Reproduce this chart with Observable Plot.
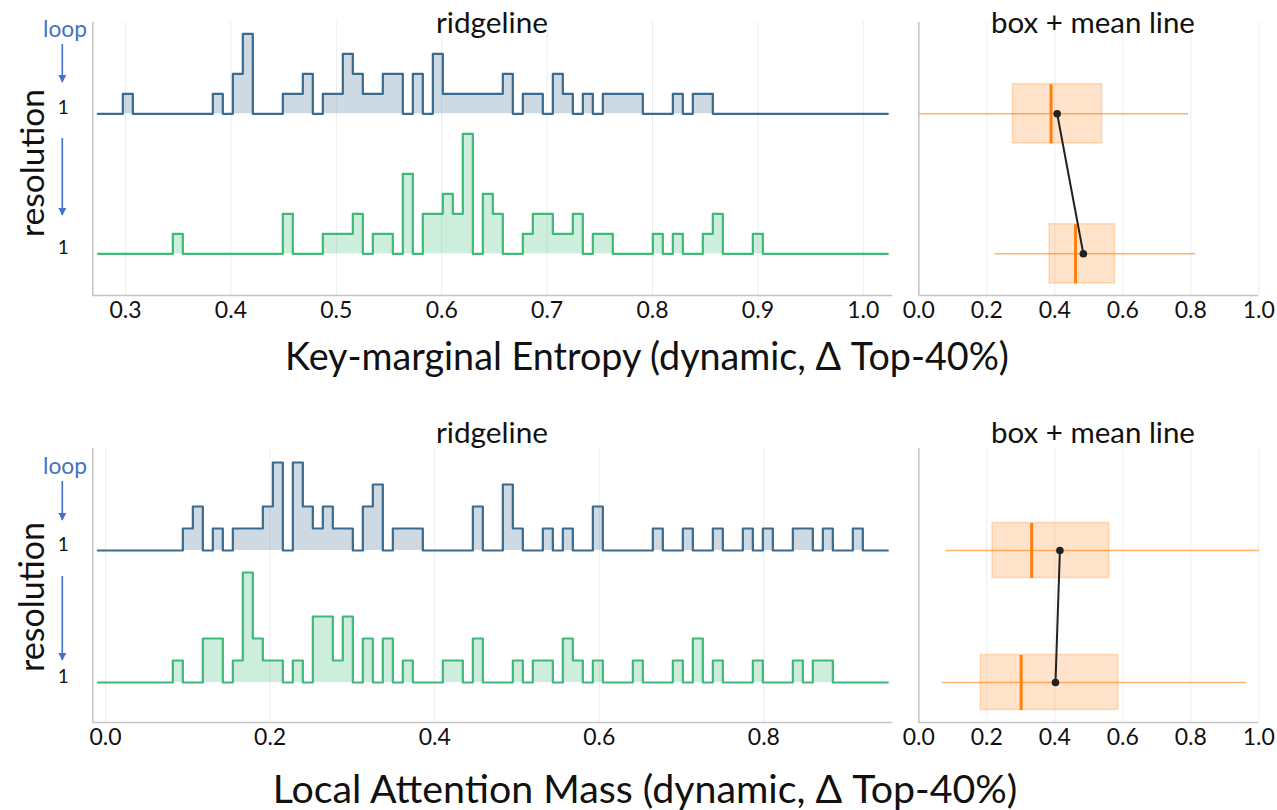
<!DOCTYPE html>
<html><head><meta charset="utf-8">
<script src="https://cdn.jsdelivr.net/npm/d3@7"></script>
<script src="https://cdn.jsdelivr.net/npm/@observablehq/plot@0.6"></script>
<style>
body{margin:0;background:#fff;}
#root{position:relative;width:1277px;height:810px;overflow:hidden;font-family:Lato,"Open Sans",sans-serif;}
.panel{position:absolute;}
#overlay{position:absolute;left:0;top:0;pointer-events:none;}
</style></head><body><div id="root"></div>
<script>
// ---------------- DATA ----------------
const rowLabels = ["1", "1"];          // y tick labels (resolution values)
const nBins = 80;

// Key-marginal Entropy panel
const entropyRange = [0.269, 1.028];
const entropyTicks = [0.3, 0.4, 0.5, 0.6, 0.7, 0.8, 0.9, 1.0];
const entropyLoopCounts = [
  0,0,0,1,0,0,0,0,0,0, 0,0,1,0,2,4,0,0,0,1, 1,2,0,1,1,3,2,1,1,2, 2,0,2,0,3,1,1,1,1,1,
  1,2,0,1,1,0,2,1,0,1, 0,1,1,1,1,0,0,0,1,0, 1,1,0,0,0,0,0,0,0,0, 0,0,0,0,0,0,0,0,0,0];
const entropyResCounts = [
  0,0,0,0,0,0,0,0,1,0, 0,0,0,0,0,0,0,0,0,2, 0,0,0,1,1,1,2,0,1,1, 0,4,0,2,2,3,2,6,0,3,
  2,0,0,1,2,2,1,1,2,0, 1,1,0,0,0,0,1,0,1,0, 0,1,2,0,0,0,1,0,0,0, 0,0,0,0,0,0,0,0,0,0];
// box stats: [whiskerLow, q1, median, q3, whiskerHigh, mean]
const entropyLoopBox = [0.0, 0.277, 0.389, 0.539, 0.792, 0.407];
const entropyResBox  = [0.2235, 0.385, 0.461, 0.577, 0.813, 0.484];

// Local Attention Mass panel
const attnRange = [-0.0154, 0.9567];
const attnTicks = [0.0, 0.2, 0.4, 0.6, 0.8];
const attnLoopCounts = [
  0,0,0,0,0,0,0,0,0,1, 2,0,1,0,1,1,1,2,4,0, 4,2,1,2,1,1,0,2,3,0, 1,1,1,0,0,0,0,0,2,0,
  0,3,1,0,0,1,0,1,0,0, 2,0,0,0,0,0,1,0,0,1, 0,0,1,0,0,1,0,1,0,0, 1,1,0,1,0,0,1,0,0,0];
const attnResCounts = [
  0,0,0,0,0,0,0,0,1,0, 0,2,2,0,1,5,2,1,1,0, 1,0,3,3,1,3,0,2,0,2, 0,1,0,0,0,1,1,0,2,0,
  0,0,1,0,1,1,0,2,1,0, 1,0,0,0,1,0,0,0,1,0, 2,0,1,0,0,0,1,0,0,0, 1,0,1,1,0,0,0,0,0,0];
const attnLoopBox = [0.0785, 0.217, 0.332, 0.560, 1.0, 0.415];
const attnResBox  = [0.067, 0.182, 0.301, 0.587, 0.963, 0.402];

const boxTicks = [0.0, 0.2, 0.4, 0.6, 0.8, 1.0];

// ---------------- STYLE / LAYOUT ----------------
const blue = "#3b6a8f", green = "#3dba78", orange = "#ff7f0e", loopBlue = "#4472c4";
const gridColor = "#ededed", axisColor = "#c4c4c4";
const FONT = "Lato, 'Open Sans', sans-serif";

const panels = [
  {top: 0, frameTop: 22, frameBottom: 295, range: entropyRange, ticks: entropyTicks,
   loop: entropyLoopCounts, res: entropyResCounts, loopBox: entropyLoopBox, resBox: entropyResBox,
   offset: 7, yDomain: [-2.085, 11.565], boxHalf: 1.48},
  {top: 0, frameTop: 448, frameBottom: 722, range: attnRange, ticks: attnTicks,
   loop: attnLoopCounts, res: attnResCounts, loopBox: attnLoopBox, resBox: attnResBox,
   offset: 6, yDomain: [-1.818, 10.636], boxHalf: 1.25}
];

const root = document.getElementById("root");

function stepPoints(counts, lo, w, base) {
  const pts = [{x: lo + w / 2, y: base + counts[0], base}];
  for (let k = 1; k < counts.length; k++) pts.push({x: lo + k * w, y: base + counts[k], base});
  pts.push({x: lo + (counts.length - 0.5) * w, y: base + counts[counts.length - 1], base});
  return pts;
}

panels.forEach(p => {
  const [lo, hi] = p.range;
  const w = (hi - lo) / nBins;
  const loopPts = stepPoints(p.loop, lo, w, p.offset);
  const resPts = stepPoints(p.res, lo, w, 0);
  const H = p.frameBottom + 45;
  const ridge = Plot.plot({
    width: 900, height: H,
    marginLeft: 92.33, marginRight: 7.67, marginTop: p.frameTop, marginBottom: H - p.frameBottom,
    style: {fontFamily: FONT, background: "transparent"},
    x: {domain: [lo, hi], axis: null},
    y: {domain: p.yDomain, axis: null},
    marks: [
      Plot.gridX(p.ticks, {stroke: gridColor, strokeOpacity: 1}),
      Plot.area(resPts, {x1: "x", y1: "base", y2: "y", curve: "step-after", fill: green, fillOpacity: 0.25}),
      Plot.line(resPts, {x: "x", y: "y", curve: "step-after", stroke: green, strokeWidth: 2.2}),
      Plot.area(loopPts, {x1: "x", y1: "base", y2: "y", curve: "step-after", fill: blue, fillOpacity: 0.25}),
      Plot.line(loopPts, {x: "x", y: "y", curve: "step-after", stroke: blue, strokeWidth: 2.2}),
      Plot.ruleX([lo], {stroke: axisColor, strokeWidth: 1.5}),
      Plot.ruleY([p.yDomain[0]], {stroke: axisColor, strokeWidth: 1.5}),
      Plot.axisX(p.ticks, {tickSize: 0, tickPadding: 6, tickFormat: d3.format(".1f"), fontSize: 23, label: null, fill: "#111"}),
      Plot.axisY([p.offset, 0], {tickSize: 0, tickPadding: 24, tickFormat: (d, i) => rowLabels[i], fontSize: 19, label: null, dy: -6, fill: "#111"})
    ]
  });
  const d1 = document.createElement("div");
  d1.className = "panel"; d1.style.left = "0px"; d1.style.top = p.top + "px";
  d1.appendChild(ridge); root.appendChild(d1);

  const boxes = [
    {row: p.offset, s: p.loopBox},
    {row: 0, s: p.resBox}
  ].map(b => ({row: b.row, wlo: b.s[0], q1: b.s[1], med: b.s[2], q3: b.s[3], whi: b.s[4], mean: b.s[5],
               y1: b.row - p.boxHalf, y2: b.row + p.boxHalf}));
  const box = Plot.plot({
    width: 377, height: H,
    marginLeft: 18.3, marginRight: 18.7, marginTop: p.frameTop, marginBottom: H - p.frameBottom,
    style: {fontFamily: FONT, background: "transparent"},
    x: {domain: [0, 1], axis: null},
    y: {domain: p.yDomain, axis: null},
    marks: [
      Plot.gridX(boxTicks, {stroke: gridColor, strokeOpacity: 1}),
      Plot.rect(boxes, {x1: "q1", x2: "q3", y1: "y1", y2: "y2", fill: orange, fillOpacity: 0.22, stroke: orange, strokeOpacity: 0.25, strokeWidth: 1.5}),
      Plot.link(boxes, {x1: "wlo", x2: "whi", y1: "row", y2: "row", stroke: orange, strokeOpacity: 0.6, strokeWidth: 1.5}),
      Plot.link(boxes, {x1: "med", x2: "med", y1: "y1", y2: "y2", stroke: orange, strokeWidth: 3}),
      Plot.line(boxes, {x: "mean", y: "row", stroke: "#222", strokeWidth: 2}),
      Plot.dot(boxes, {x: "mean", y: "row", r: 3.8, fill: "#222"}),
      Plot.ruleX([0], {stroke: axisColor, strokeWidth: 1.5}),
      Plot.ruleY([p.yDomain[0]], {stroke: axisColor, strokeWidth: 1.5}),
      Plot.axisX(boxTicks, {tickSize: 0, tickPadding: 6, tickFormat: d3.format(".1f"), fontSize: 23, label: null, fill: "#111"})
    ]
  });
  const d2 = document.createElement("div");
  d2.className = "panel"; d2.style.left = "900px"; d2.style.top = p.top + "px";
  d2.appendChild(box); root.appendChild(d2);
});

// ---------------- OVERLAY TEXT & ARROWS ----------------
const svg = d3.select(root).append("svg").attr("id", "overlay").attr("width", 1277).attr("height", 810);
svg.append("defs").append("marker").attr("id", "ah").attr("viewBox", "0 0 10 10")
  .attr("refX", 9).attr("refY", 5).attr("markerWidth", 8).attr("markerHeight", 8)
  .attr("markerUnits", "userSpaceOnUse").attr("orient", "auto")
  .append("path").attr("d", "M0,0L10,5L0,10Z").attr("fill", loopBlue);

function txt(x, y, s, size, width, opts = {}) {
  const t = svg.append("text").attr("x", x).attr("y", y).text(s)
    .attr("font-family", FONT).attr("font-size", size).attr("text-anchor", "middle")
    .attr("fill", opts.fill || "#111");
  if (opts.rotate) t.attr("transform", `rotate(-90,${x},${y})`);
  if (width) {
    const m = t.node().getComputedTextLength();
    if (m > 0) t.attr("font-size", size * width / m);
  }
  return t;
}

const texts = [
  // [x, y(baseline), text, size, targetWidth]
  [492, 33, "ridgeline", 24, 112],
  [1093, 33, "box + mean line", 24, 204],
  [492, 443, "ridgeline", 24, 112],
  [1093, 443, "box + mean line", 24, 204],
  [647, 370, "Key-marginal Entropy (dynamic, \u0394 Top-40%)", 34, 724],
  [645, 803, "Local Attention Mass (dynamic, \u0394 Top-40%)", 34, 745]
];
texts.forEach(([x, y, s, size, wd]) => txt(x, y, s, size, wd));
txt(44, 163, "resolution", 28, 148, {rotate: true});
txt(44, 597, "resolution", 28, 150, {rotate: true});
txt(65, 37, "loop", 20, 44, {fill: loopBlue});
txt(65, 474, "loop", 20, 44, {fill: loopBlue});

const arrows = [[62.3, 44, 82], [62.3, 138, 215], [62.3, 481, 520], [62.3, 576, 660]];
arrows.forEach(([x, y1, y2]) => svg.append("line").attr("x1", x).attr("x2", x).attr("y1", y1).attr("y2", y2)
  .attr("stroke", loopBlue).attr("stroke-width", 1.6).attr("marker-end", "url(#ah)"));
</script></body></html>
